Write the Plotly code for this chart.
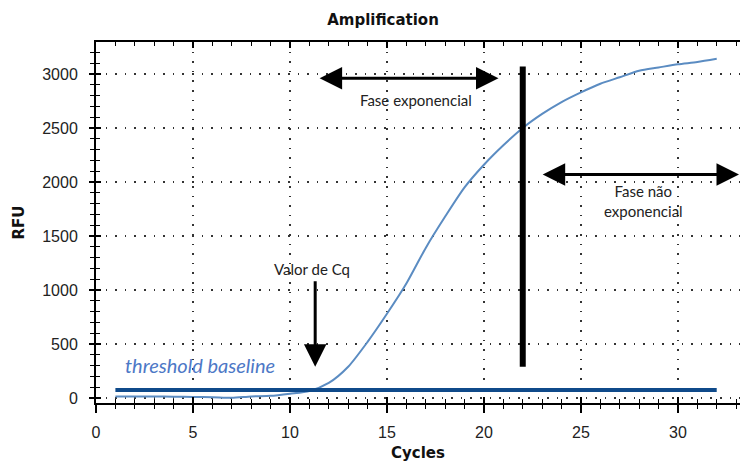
import plotly.graph_objects as go

# qPCR amplification curve (RFU per cycle)
cycles = list(range(1, 33))
rfu = [15, 15, 14, 12, 10, 8, 2, 15, 20, 40, 65, 140, 290, 520, 780, 1060,
       1390, 1680, 1950, 2160, 2340, 2500, 2630, 2740, 2830, 2910, 2970,
       3030, 3060, 3090, 3110, 3140]

threshold_value = 75
threshold_cycles = [1, 32]

phase_split_cycle = 22
phase_split_rfu = [290, 3070]

x_range = [0, 33.2]
y_range = [-46, 3296]
x_ticks = [0, 5, 10, 15, 20, 25, 30]
y_ticks = [0, 500, 1000, 1500, 2000, 2500, 3000]

tick_font = dict(family="Liberation Sans, Arial, sans-serif", size=16, color="#222")
label_font = dict(family="DejaVu Sans, Arial, sans-serif", size=15, color="#111")
note_font = dict(family="Lato, Open Sans, sans-serif", size=15, color="#222")

fig = go.Figure()

fig.add_trace(go.Scatter(
    x=cycles, y=rfu, mode="lines",
    line=dict(color="#5b8cc2", width=2, shape="spline", smoothing=0.7),
    hoverinfo="skip", showlegend=False))

fig.add_trace(go.Scatter(
    x=threshold_cycles, y=[threshold_value] * 2, mode="lines",
    line=dict(color="#0f4a8a", width=4), hoverinfo="skip", showlegend=False))

fig.add_trace(go.Scatter(
    x=[phase_split_cycle] * 2, y=phase_split_rfu, mode="lines",
    line=dict(color="#000", width=6), hoverinfo="skip", showlegend=False))

# companion axes carrying the inward half of the crossing ticks
fig.add_trace(go.Scatter(
    x=[None], y=[None], xaxis="x2", yaxis="y2",
    hoverinfo="skip", showlegend=False))

grid_dash = "1.6px,8px"

fig.update_layout(
    width=740, height=462,
    margin=dict(l=96, r=0, t=42, b=59),
    paper_bgcolor="white", plot_bgcolor="white",
    title=dict(text="<b>Amplification</b>", x=383 / 740, xanchor="center",
               y=1 - 20 / 462, yanchor="middle",
               font=dict(family="DejaVu Sans, Arial, sans-serif", size=15, color="#111")),
    xaxis=dict(
        range=x_range, tickvals=x_ticks, ticks="outside", ticklen=8,
        tickwidth=1.5, tickcolor="#000", tickfont=tick_font,
        ticklabelstandoff=6,
        minor=dict(dtick=1, tick0=0, ticks="outside", ticklen=4,
                   tickwidth=1.2, tickcolor="#000", showgrid=False),
        showline=True, linecolor="#000", linewidth=2,
        showgrid=True, gridcolor="#333", gridwidth=1.5, griddash=grid_dash,
        zeroline=False,
        title=dict(text="<b>Cycles</b>", font=label_font, standoff=10)),
    yaxis=dict(
        range=y_range, tickvals=y_ticks, ticks="outside", ticklen=5,
        tickwidth=1.5, tickcolor="#000", tickfont=tick_font,
        ticklabelstandoff=8,
        minor=dict(dtick=100, tick0=0, ticks="outside", ticklen=4,
                   tickwidth=1.2, tickcolor="#000", showgrid=False),
        showline=True, linecolor="#000", linewidth=2,
        showgrid=True, gridcolor="#333", gridwidth=1.5, griddash=grid_dash,
        zeroline=False,
        title=dict(text="<b>RFU</b>", font=label_font, standoff=14)),
    xaxis2=dict(
        overlaying="x", anchor="y2", range=x_range, tickvals=x_ticks,
        ticks="inside", ticklen=6, tickwidth=1.5, tickcolor="#000",
        showticklabels=False, mirror="ticks",
        minor=dict(dtick=1, tick0=0, ticks="inside", ticklen=4,
                   tickwidth=1.2, tickcolor="#000", showgrid=False),
        showline=True, linecolor="#000", linewidth=2,
        showgrid=False, zeroline=False),
    yaxis2=dict(
        overlaying="y", anchor="x2", range=y_range, tickvals=y_ticks,
        ticks="inside", ticklen=5, tickwidth=1.5, tickcolor="#000",
        showticklabels=False,
        minor=dict(dtick=100, tick0=0, ticks="inside", ticklen=4,
                   tickwidth=1.2, tickcolor="#000", showgrid=False),
        showline=False, showgrid=False, zeroline=False),
)

arrow_style = dict(showarrow=True, arrowcolor="#000", arrowwidth=3,
                   arrowhead=2, arrowsize=1.5, startarrowhead=2,
                   startarrowsize=1.5, standoff=0, startstandoff=0,
                   axref="x", ayref="y", xref="x", yref="y", text="")

# exponential phase span
fig.add_annotation(x=20.75, y=2960, ax=11.45, ay=2960,
                   arrowside="end+start", **arrow_style)
fig.add_annotation(x=16.5, y=2760, text="Fase exponencial", showarrow=False,
                   font=note_font)

# plateau span
fig.add_annotation(x=33.15, y=2070, ax=22.95, ay=2070,
                   arrowside="end+start", **arrow_style)
fig.add_annotation(x=28.25, y=1824, text="Fase não<br>exponencial",
                   showarrow=False, font=note_font)

# Cq marker
fig.add_annotation(x=11.3, y=290, ax=11.3, ay=1095, arrowside="end",
                   **arrow_style)
fig.add_annotation(x=11.15, y=1191, text="Valor de Cq", showarrow=False,
                   font=note_font)

fig.add_annotation(x=5.34, y=305, text="threshold baseline", showarrow=False,
                   font=dict(family="Lato, Open Sans, sans-serif", size=20,
                             color="#4d78c6", style="italic"))

fig.write_html("out.html")
